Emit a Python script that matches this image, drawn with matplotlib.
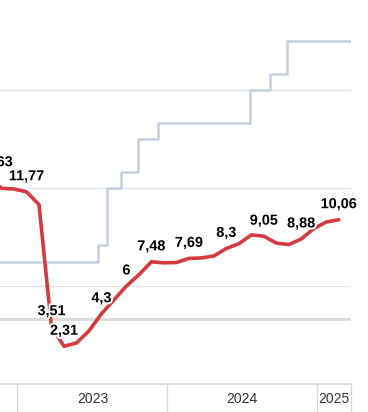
import matplotlib
matplotlib.use("Agg")
import matplotlib.pyplot as plt
import matplotlib.patheffects as pe
import calendar

# ---- data ----
cpi_months = ["2022-10", "2022-11", "2022-12",
              "2023-01", "2023-02", "2023-03", "2023-04", "2023-05", "2023-06",
              "2023-07", "2023-08", "2023-09", "2023-10", "2023-11", "2023-12",
              "2024-01", "2024-02", "2024-03", "2024-04", "2024-05", "2024-06",
              "2024-07", "2024-08", "2024-09", "2024-10", "2024-11", "2024-12",
              "2025-01", "2025-02"]
cpi_values = [12.63, 11.98, 11.94,
              11.77, 10.99, 3.51, 2.31, 2.51, 3.25,
              4.30, 5.15, 6.00, 6.69, 7.48, 7.42,
              7.44, 7.69, 7.72, 7.84, 8.30, 8.59,
              9.13, 9.05, 8.63, 8.54, 8.88, 9.52,
              9.92, 10.06]
cpi_labeled = ["2022-10", "2023-01", "2023-03", "2023-04", "2023-07", "2023-09",
               "2023-11", "2024-02", "2024-05", "2024-08", "2024-11", "2025-02"]

rate_dates = ["2022-09-19", "2023-07-24", "2023-08-15", "2023-09-18", "2023-10-30",
              "2023-12-18", "2024-07-29", "2024-09-16", "2024-10-28"]
rate_values = [7.5, 8.5, 12, 13, 15, 16, 18, 19, 21]

year_labels = ["2023", "2024", "2025"]
year_starts = [0, 12, 24]

# ---- helpers ----
SHIFT = 0.28
X_LEFT, X_RIGHT = -1.40, 26.70


def month_pos(ym):
    y, m = map(int, ym.split("-"))
    return (y - 2023) * 12 + (m - 1) + 1 - SHIFT  # month end


def date_pos(d):
    y, m, dd = map(int, d.split("-"))
    nd = calendar.monthrange(y, m)[1]
    return (y - 2023) * 12 + (m - 1) + (dd - 1) / nd - SHIFT


cpi_x = [month_pos(s) for s in cpi_months]
rate_x = [date_pos(s) for s in rate_dates] + [X_RIGHT]
rate_y = rate_values + [rate_values[-1]]

fig = plt.figure(figsize=(3.68, 4.12), dpi=100)
ax = fig.add_axes([0, 28 / 412, 351 / 368, 384 / 412])

ax.set_xlim(X_LEFT, X_RIGHT)
ax.set_ylim(0, 384 / 16.33)

for g in [6, 12, 18, 24]:
    ax.axhline(g, color="#e1e5eb", lw=1.0, zorder=1)
ax.axhline(4, color="#dcdcdc", lw=2.2, zorder=1)

ax.step(rate_x, rate_y, where="post", color="#c5cfdd", lw=1.8, zorder=2)
ax.plot(cpi_x, cpi_values, color="#d43a40", lw=2.6, zorder=3,
        solid_joinstyle="round", solid_capstyle="round")

for s in cpi_labeled:
    i = cpi_months.index(s)
    v = cpi_values[i]
    txt = (f"{v:.2f}".rstrip("0").rstrip(".")).replace(".", ",")
    dx = 4 if s == "2022-10" else 0
    ax.annotate(txt, (cpi_x[i], v), xytext=(dx, 11.2), textcoords="offset points",
                ha="center", va="center", fontsize=10.4, fontweight="bold",
                family="Liberation Sans", color="black", zorder=5,
                path_effects=[pe.withStroke(linewidth=2.8, foreground="white")],
                annotation_clip=False)

for sp in ["left", "right", "top"]:
    ax.spines[sp].set_visible(False)
ax.spines["bottom"].set_color("#d3d9e3")
ax.spines["bottom"].set_linewidth(1.2)

ax.set_yticks([])
ax.set_xticks(year_starts + [X_RIGHT])
ax.set_xticklabels([])
ax.tick_params(axis="x", which="major", length=20.5, width=1.0, color="#d3d9e3")
centers = [(year_starts[0] + year_starts[1]) / 2, (year_starts[1] + year_starts[2]) / 2,
           (year_starts[2] + X_RIGHT) / 2]
ax.set_xticks(centers, minor=True)
ax.set_xticklabels(year_labels, minor=True, fontsize=10, family="Liberation Sans",
                   color="#333333")
ax.tick_params(axis="x", which="minor", length=0, pad=6)

fig.savefig("out.png", dpi=100)
